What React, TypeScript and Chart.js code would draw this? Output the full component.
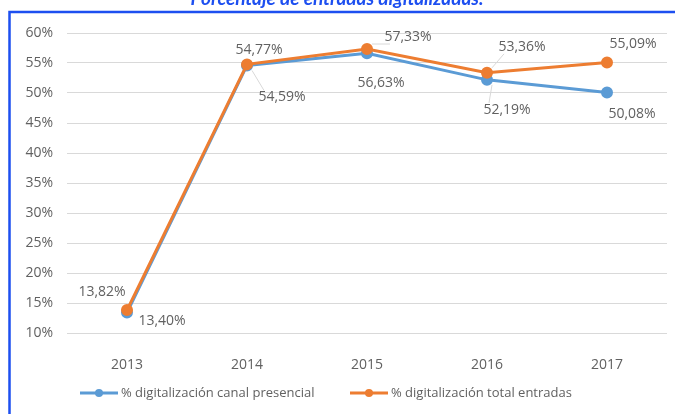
import React, { useEffect, useRef } from "react";
import { Chart, registerables } from "chart.js";

Chart.register(...registerables);

const years = ["2013", "2014", "2015", "2016", "2017"];
const presencial = [13.4, 54.59, 56.63, 52.19, 50.08];
const totalEntradas = [13.82, 54.77, 57.33, 53.36, 55.09];
const seriesNames = ["% digitalización canal presencial", "% digitalización total entradas"];
const titleText = "Porcentaje de entradas digitalizadas.";

// label placement (offsets from the point, px) — layout only
const presencialOffsets = [[35, 8], [35, 32], [14, 30], [20, 30], [25, 21]];
const totalOffsets = [[-25, -18], [12, -14], [41, -12], [35, -26], [26, -18]];
const presencialLeaders = [false, true, false, true, false];
const totalLeaders = [false, false, true, true, false];

const BLUE = "#5B9BD5";
const ORANGE = "#ED7D31";
const TEXT = "#616161";
const FONT = "'Open Sans', sans-serif";

const fmt = (v: number) => v.toFixed(2).replace(".", ",") + "%";

export default function App() {
  const ref = useRef<HTMLCanvasElement>(null);
  useEffect(() => {
    if (!ref.current) return;
    const framePlugin = {
      id: "frame",
      beforeDraw(chart: any) {
        const ctx = chart.ctx;
        ctx.save();
        ctx.strokeStyle = "#1D4FF0";
        ctx.lineWidth = 2.5;
        ctx.beginPath();
        ctx.moveTo(680, 12);
        ctx.lineTo(9.5, 12);
        ctx.lineTo(9.5, 420);
        ctx.stroke();
        ctx.fillStyle = "#1D4FF0";
        ctx.font = "italic bold 19px Lato, sans-serif";
        ctx.textAlign = "center";
        ctx.textBaseline = "alphabetic";
        ctx.fillText(titleText, 337, 5);
        ctx.restore();
      },
    };
    const labelPlugin = {
      id: "dlabels",
      afterDatasetsDraw(chart: any) {
        const ctx = chart.ctx;
        ctx.save();
        ctx.font = "14px " + FONT;
        ctx.fillStyle = TEXT;
        ctx.textAlign = "center";
        ctx.textBaseline = "middle";
        const sets = [
          { data: presencial, off: presencialOffsets, lead: presencialLeaders, i: 0 },
          { data: totalEntradas, off: totalOffsets, lead: totalLeaders, i: 1 },
        ];
        sets.forEach((s) => {
          const meta = chart.getDatasetMeta(s.i);
          meta.data.forEach((pt: any, j: number) => {
            const [dx, dy] = s.off[j];
            const lx = pt.x + dx;
            const ly = pt.y + dy;
            if (s.lead[j]) {
              ctx.save();
              ctx.strokeStyle = "#d8d8d8";
              ctx.lineWidth = 1;
              ctx.beginPath();
              ctx.moveTo(pt.x + Math.sign(dx) * 5, pt.y + Math.sign(dy) * 5);
              ctx.lineTo(lx - Math.sign(dx) * 18, ly - Math.sign(dy) * 7);
              ctx.stroke();
              ctx.restore();
            }
            ctx.fillText(fmt(s.data[j]), lx, ly);
          });
        });
        ctx.restore();
      },
    };
    const legendPlugin = {
      id: "customLegend",
      afterDraw(chart: any) {
        const ctx = chart.ctx;
        ctx.save();
        const y = 393;
        const items = [
          { x: 80, color: BLUE, text: seriesNames[0] },
          { x: 350, color: ORANGE, text: seriesNames[1] },
        ];
        items.forEach((it) => {
          ctx.strokeStyle = it.color;
          ctx.lineWidth = 3;
          ctx.beginPath();
          ctx.moveTo(it.x, y);
          ctx.lineTo(it.x + 38, y);
          ctx.stroke();
          ctx.fillStyle = it.color;
          ctx.beginPath();
          ctx.arc(it.x + 19, y, 4, 0, Math.PI * 2);
          ctx.fill();
          ctx.fillStyle = TEXT;
          ctx.font = "13px " + FONT;
          ctx.textAlign = "left";
          ctx.textBaseline = "middle";
          ctx.fillText(it.text, it.x + 41, y);
        });
        ctx.restore();
      },
    };
    const chart = new Chart(ref.current, {
      type: "line",
      data: {
        labels: years,
        datasets: [
          {
            label: seriesNames[0],
            data: presencial,
            borderColor: BLUE,
            backgroundColor: BLUE,
            borderWidth: 3,
            pointRadius: 4.5,
            pointBackgroundColor: BLUE,
            pointBorderColor: BLUE,
            order: 1,
          },
          {
            label: seriesNames[1],
            data: totalEntradas,
            borderColor: ORANGE,
            backgroundColor: ORANGE,
            borderWidth: 3,
            pointRadius: 4.5,
            pointBackgroundColor: ORANGE,
            pointBorderColor: ORANGE,
            order: 0,
          },
        ],
      },
      options: {
        animation: false,
        responsive: false,
        layout: { padding: { top: 33, right: 8, left: 0, bottom: 0 } },
        plugins: { legend: { display: false }, tooltip: { enabled: false }, title: { display: false } },
        scales: {
          x: {
            offset: true,
            grid: { display: false },
            border: { display: false },
            ticks: { color: TEXT, font: { family: FONT, size: 14 }, padding: 16 },
            afterFit: (s: any) => {
              s.height = 81;
            },
          },
          y: {
            min: 10,
            max: 60,
            grid: { color: "#d9d9d9", drawTicks: false },
            border: { display: false },
            ticks: {
              stepSize: 5,
              color: TEXT,
              font: { family: FONT, size: 14 },
              padding: 14,
              callback: (v: any) => v + "%",
            },
            afterFit: (s: any) => {
              s.width = 67;
            },
          },
        },
      },
      plugins: [framePlugin, labelPlugin, legendPlugin],
    });
    return () => chart.destroy();
  }, []);
  return (
    <div style={{ position: "absolute", left: 0, top: 0, width: 675, height: 414, overflow: "hidden", background: "#fff" }}>
      <canvas ref={ref} width={675} height={414} style={{ display: "block" }} />
    </div>
  );
}
